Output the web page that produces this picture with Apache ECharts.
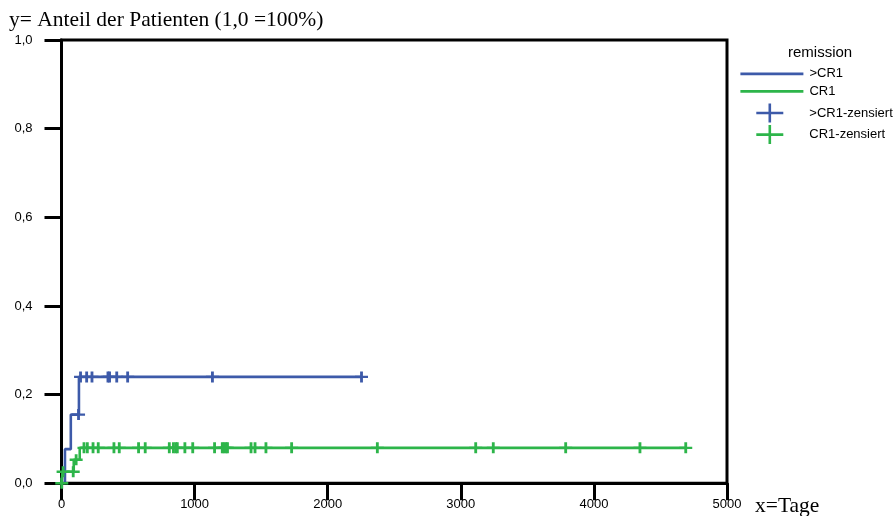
<!DOCTYPE html>
<html>
<head>
<meta charset="utf-8">
<script src="https://cdn.jsdelivr.net/npm/echarts@6/dist/echarts.min.js"></script>
<style>
  html, body { margin: 0; padding: 0; background: #fff; }
  #chart { width: 894px; height: 516px; }
</style>
</head>
<body>
<div id="chart"></div>
<script>
// Cumulative proportion of patients (1,0 = 100%) by remission status, in days.
const xTicks = [0, 1000, 2000, 3000, 4000, 5000];
const yTicks = [0, 0.2, 0.4, 0.6, 0.8, 1.0];

// Event steps: [day, proportion after the step]
const stepsCR1plus = [[0, 0], [26, 0.077], [70, 0.155], [131, 0.240]];
const stepsCR1 = [[0, 0], [8, 0.026], [92, 0.053], [137, 0.080]];

// Censored observations (days)
const censoredCR1plus = [128, 143, 189, 229, 349, 361, 415, 497, 1134, 2254];
const censoredCR1 = [2, 12, 88, 110, 169, 194, 237, 276, 394, 434, 579, 629, 810, 841,
  859, 870, 927, 986, 1150, 1208, 1221, 1236, 1247, 1424, 1454, 1536, 1729, 2373,
  3112, 3244, 3788, 4346, 4690];

const seriesNames = ['>CR1', 'CR1', '>CR1-zensiert', 'CR1-zensiert'];
const blue = '#3d5aa9';
const green = '#2db54a';

// value of the step function at a given day
function levelAt(steps, day) {
  let v = 0;
  for (const [d, p] of steps) { if (d <= day) v = p; }
  return v;
}
function curve(steps, censored) {
  const last = Math.max(...censored, steps[steps.length - 1][0]);
  return steps.concat([[last, levelAt(steps, last)]]);
}
function marks(steps, censored) {
  return censored.map(d => [d, levelAt(steps, d)]);
}

const plus = 'path://M0,5L10,5M5,0L5,10';
const legendPlus = 'path://M0,9.5L27,9.5M13.5,0L13.5,19';
const sans = 'Liberation Sans';
const serif = 'Liberation Serif';

const chart = echarts.init(document.getElementById('chart'), null, { renderer: 'canvas' });
chart.setOption({
  animation: false,
  backgroundColor: '#fff',
  title: [
    { text: 'y= Anteil der Patienten (1,0 =100%)', left: 9, top: 9, padding: 0,
      textStyle: { fontFamily: serif, fontSize: 21.5, fontWeight: 'normal', color: '#000' } },
    { text: 'x=Tage', left: 755, top: 495, padding: 0,
      textStyle: { fontFamily: serif, fontSize: 21.5, fontWeight: 'normal', color: '#000' } },
    { text: 'remission', left: 788, top: 45, padding: 0,
      textStyle: { fontFamily: sans, fontSize: 15, fontWeight: 'normal', color: '#000' } }
  ],
  legend: [
    { data: [seriesNames[0], seriesNames[1]], orient: 'vertical', left: 739, top: 67.3,
      padding: 0, itemWidth: 63, itemHeight: 14, itemGap: 4.5, selectedMode: false,
      itemStyle: { color: 'rgba(0,0,0,0)', borderWidth: 0 },
      lineStyle: { width: 2.8 },
      textStyle: { fontFamily: sans, fontSize: 13, color: '#000', padding: [0, 0, 0, 1] } },
    { data: [{ name: seriesNames[2], icon: legendPlus }, { name: seriesNames[3], icon: legendPlus }],
      orient: 'vertical', left: 755, top: 102.2,
      padding: 0, itemWidth: 27, itemHeight: 19, itemGap: 0, selectedMode: false,
      itemStyle: { borderWidth: 2.6 },
      textStyle: { fontFamily: sans, fontSize: 13, color: '#000', padding: [0, 0, 0, 21] } }
  ],
  grid: { left: 61.5, right: 167, top: 40, bottom: 32.7, show: true,
    borderColor: '#000', borderWidth: 3, backgroundColor: 'transparent' },
  xAxis: {
    type: 'value', min: xTicks[0], max: xTicks[xTicks.length - 1], interval: 1000,
    axisLine: { lineStyle: { color: '#000', width: 3 } },
    axisTick: { length: 17, lineStyle: { color: '#000', width: 3 } },
    axisLabel: { fontFamily: sans, fontSize: 13, color: '#000', margin: 15,
      formatter: v => String(v) },
    splitLine: { show: false }
  },
  yAxis: {
    type: 'value', min: yTicks[0], max: yTicks[yTicks.length - 1], interval: 0.2,
    axisLine: { lineStyle: { color: '#000', width: 3 } },
    axisTick: { length: 17, lineStyle: { color: '#000', width: 3 } },
    axisLabel: { fontFamily: sans, fontSize: 13, color: '#000', margin: 29,
      formatter: v => v.toFixed(1).replace('.', ',') },
    splitLine: { show: false }
  },
  series: [
    { name: seriesNames[0], type: 'line', step: 'end', symbol: 'none',
      data: curve(stepsCR1plus, censoredCR1plus),
      lineStyle: { color: blue, width: 2.6 }, itemStyle: { color: blue }, z: 3 },
    { name: seriesNames[1], type: 'line', step: 'end', symbol: 'none',
      data: curve(stepsCR1, censoredCR1),
      lineStyle: { color: green, width: 2.6 }, itemStyle: { color: green }, z: 2 },
    { name: seriesNames[2], type: 'scatter', symbol: plus, symbolSize: [13, 11],
      data: marks(stepsCR1plus, censoredCR1plus),
      itemStyle: { color: 'rgba(0,0,0,0)', borderColor: blue, borderWidth: 2.6, opacity: 1 }, z: 4 },
    { name: seriesNames[3], type: 'scatter', symbol: plus, symbolSize: [13, 11],
      data: marks(stepsCR1, censoredCR1),
      itemStyle: { color: 'rgba(0,0,0,0)', borderColor: green, borderWidth: 2.6, opacity: 1 }, z: 3 }
  ]
});
</script>
</body>
</html>
